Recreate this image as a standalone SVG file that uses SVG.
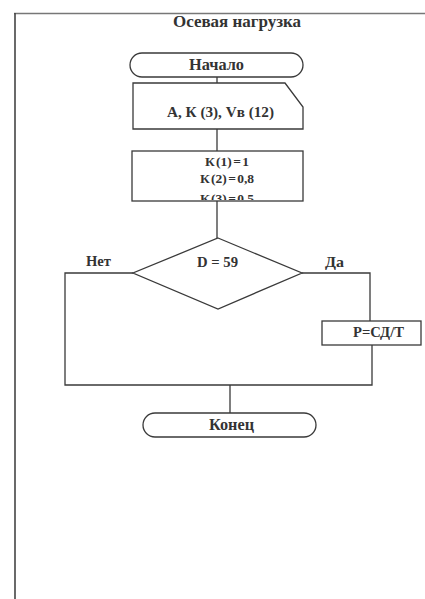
<svg xmlns="http://www.w3.org/2000/svg" width="425" height="599" viewBox="0 0 425 599">
<defs>
<style>
.t{font-family:"Liberation Serif","Times New Roman",serif;font-weight:bold;font-size:14px;fill:#333}
.k{font-family:"Liberation Serif","Times New Roman",serif;font-weight:bold;font-size:13.5px;word-spacing:-2px;fill:#333;text-anchor:middle}
.s{fill:#fff;stroke:#3a3a3a;stroke-width:1.3}
.c{fill:none;stroke:#3a3a3a;stroke-width:1.3}
</style>
<clipPath id="kclip"><rect x="133" y="152" width="169" height="48"/></clipPath>
</defs>
<rect width="425" height="599" fill="#fff"/>
<g id="frame">
<line x1="14" y1="13.5" x2="425" y2="13.5" stroke="#777" stroke-width="1.3"/>
<line x1="15" y1="13" x2="15" y2="599" stroke="#444" stroke-width="1.6"/>
</g>
<text class="t" x="173" y="27" style="font-size:17.5px" textLength="128" lengthAdjust="spacingAndGlyphs">Осевая нагрузка</text>
<g id="connectors">
<line class="c" x1="217" y1="77" x2="217" y2="83"/>
<line class="c" x1="217" y1="129" x2="217" y2="151"/>
<line class="c" x1="217" y1="201" x2="217" y2="238"/>
<polyline class="c" points="133,273 65,273 65,385 372,385 372,345"/>
<polyline class="c" points="302,273 370,273 370,321"/>
<line class="c" x1="230" y1="385" x2="230" y2="413"/>
</g>
<g id="start">
<rect class="s" x="130" y="53" width="173" height="24" rx="12"/>
<text class="t" x="189" y="70" style="font-size:16px" textLength="55" lengthAdjust="spacingAndGlyphs">Начало</text>
</g>
<g id="input">
<path class="s" d="M133,83 H285 L303,107 V129 H133 Z"/>
<text class="t" x="167" y="117" style="font-size:15px" textLength="107" lengthAdjust="spacingAndGlyphs">А, К (3), Vв (12)</text>
</g>
<g id="assign">
<rect class="s" x="132" y="151" width="171" height="50"/>
<text class="k" x="227" y="166">К (1) = 1</text>
<text class="k" x="227" y="183">К (2) = 0,8</text>
<text class="k" x="227" y="203" clip-path="url(#kclip)">К (3) = 0,5</text>
</g>
<g id="decision">
<polygon class="s" points="218,238 302,273 218,309 133,273"/>
<text class="t" x="197" y="267" textLength="41" lengthAdjust="spacingAndGlyphs">D = 59</text>
<text class="t" x="86" y="266" textLength="25" lengthAdjust="spacingAndGlyphs">Нет</text>
<text class="t" x="325" y="267" style="font-size:15.5px" textLength="19" lengthAdjust="spacingAndGlyphs">Да</text>
</g>
<g id="calc">
<rect class="s" x="322" y="321" width="99" height="24"/>
<text class="t" x="353" y="337" style="font-size:14.5px" textLength="51" lengthAdjust="spacingAndGlyphs">Р=СД/Т</text>
</g>
<g id="end">
<rect class="s" x="143" y="413" width="173" height="24" rx="12"/>
<text class="t" x="209" y="430" style="font-size:16px" textLength="45" lengthAdjust="spacingAndGlyphs">Конец</text>
</g>
</svg>
